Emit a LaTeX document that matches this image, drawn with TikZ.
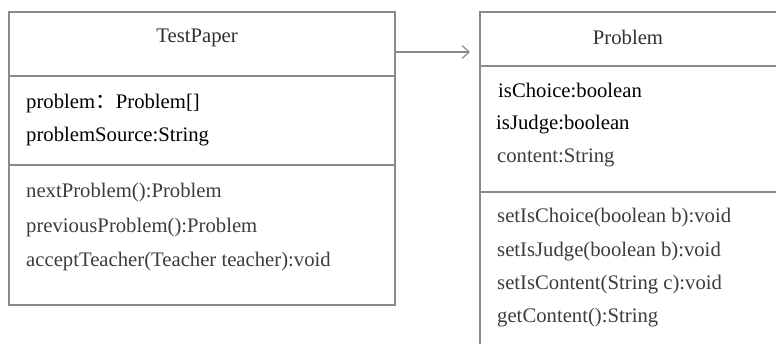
\documentclass[tikz,border=0pt]{standalone}
\usepackage{fontspec}
\setmainfont{Liberation Serif}
\newfontfamily\cjk{Noto Sans CJK SC}
\usetikzlibrary{arrows.meta}
\definecolor{boxline}{HTML}{8A8A8A}
\definecolor{methtext}{HTML}{3C3C3C}
\definecolor{titletext}{HTML}{303030}
\tikzset{
  classbox/.style={draw=boxline, line width=1.6pt, rectangle, inner sep=0pt, anchor=north west},
  divider/.style={draw=boxline, line width=1.6pt},
  attr/.style={anchor=west, inner sep=0pt, font=\fontsize{20.7}{22}\selectfont, text=black},
  meth/.style={anchor=west, inner sep=0pt, font=\fontsize{20.7}{22}\selectfont, text=methtext},
  ctitle/.style={inner sep=0pt, font=\fontsize{20.7}{22}\selectfont, text=titletext},
  assoc/.style={draw=boxline, line width=1.2pt, -{Straight Barb[length=7pt,width=13pt,line width=1.2pt]}}
}
\begin{document}
\begin{tikzpicture}[x=1pt,y=-1pt]
\useasboundingbox (0,0) rectangle (776,344);
\begin{scope}
\clip (0,0) rectangle (776,344);
% TestPaper class
\node[classbox, minimum width=386pt, minimum height=293pt] (tp) at (8,11) {};
\draw[divider] (8,76) -- (394,76);
\draw[divider] (8,165) -- (394,165);
\node[ctitle] (tpname) at (197,38) {TestPaper};
\node[attr] (tpa1) at (26,104) {problem{\cjk ：}Problem[]};
\node[attr] (tpa2) at (26,137) {problemSource:String};
\node[meth] (tpm1) at (26,193) {nextProblem():Problem};
\node[meth] (tpm2) at (26,228) {previousProblem():Problem};
\node[meth] (tpm3) at (26,262) {acceptTeacher(Teacher teacher):void};
% Problem class
\node[classbox, minimum width=300pt, minimum height=360pt] (pr) at (479,11) {};
\draw[divider] (479,66) -- (779,66);
\draw[divider] (479,192) -- (779,192);
\node[ctitle] (prname) at (628,37) {Problem};
\node[attr] (pra1) at (498,90) {isChoice:boolean};
\node[attr] (pra2) at (496,125) {isJudge:boolean};
\node[meth] (pra3) at (497,158) {content:String};
\node[meth] (prm1) at (497,218) {setIsChoice(boolean b):void};
\node[meth] (prm2) at (497,252) {setIsJudge(boolean b):void};
\node[meth] (prm3) at (497,285) {setIsContent(String c):void};
\node[meth] (prm4) at (497,318) {getContent():String};
% association
\coordinate (ay) at (0,52);
\draw[assoc] (tp.east |- ay) -- ([xshift=-9pt]pr.west |- ay);
\end{scope}
\end{tikzpicture}
\end{document}
